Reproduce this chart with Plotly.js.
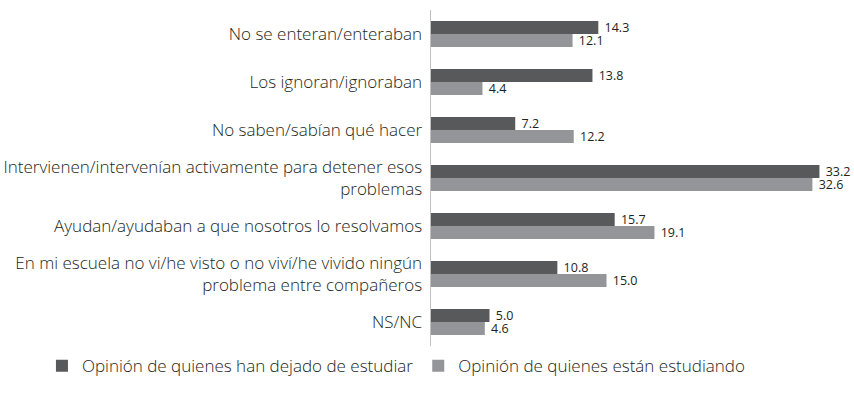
<!DOCTYPE html>
<html>
<head>
<meta charset="utf-8">
<script src="https://cdn.plot.ly/plotly-3.0.1.min.js"></script>
<style>html,body{margin:0;padding:0;background:#fff;}#chart{width:854px;height:404px;}</style>
</head>
<body>
<div id="chart"></div>
<script>
const categories = [
  "No se enteran/enteraban",
  "Los ignoran/ignoraban",
  "No saben/sabían qué hacer",
  "Intervienen/intervenían activamente para detener esos<br>problemas",
  "Ayudan/ayudaban a que nosotros lo resolvamos",
  "En mi escuela no vi/he visto o no viví/he vivido ningún<br>problema entre compañeros",
  "NS/NC"
];
const seriesNames = ["Opinión de quienes han dejado de estudiar", "Opinión de quienes están estudiando"];
const dejaron = [14.3, 13.8, 7.2, 33.2, 15.7, 10.8, 5.0];
const estudian = [12.1, 4.4, 12.2, 32.6, 19.1, 15.0, 4.6];

const fontFam = "'Open Sans', sans-serif";
const mk = (name, vals, color) => ({
  type: 'bar', orientation: 'h', name: name,
  x: vals, y: categories,
  marker: {color: color},
  text: vals.map(v => '\u00a0' + v.toFixed(1)),
  textposition: 'outside', cliponaxis: false, constraintext: 'none',
  textfont: {family: fontFam, size: 12.5, color: '#231f20', weight: 400},
  hoverinfo: 'x'
});
const data = [mk(seriesNames[0], dejaron, '#58595b'), mk(seriesNames[1], estudian, '#939598')];
const layout = {
  width: 854, height: 404,
  margin: {l: 431, r: 10, t: 10, b: 58},
  barmode: 'group', bargap: 0.46, bargroupgap: 0,
  paper_bgcolor: '#fff', plot_bgcolor: '#fff',
  font: {family: fontFam, size: 17, color: '#231f20', weight: 300},
  xaxis: {range: [0, 35.3], visible: false, fixedrange: true},
  yaxis: {autorange: 'reversed', showline: true, linecolor: '#c0c0c0', linewidth: 1.5,
          ticks: '', showgrid: false, zeroline: false, ticklabelstandoff: 4,
          tickfont: {family: fontFam, size: 17, color: '#231f20', weight: 300}},
  showlegend: true,
  legend: {orientation: 'h', x: -0.942, xanchor: 'left',
           y: -0.06, yanchor: 'middle', traceorder: 'normal',
           font: {family: fontFam, size: 17, color: '#231f20', weight: 300}, itemwidth: 30}
};
Plotly.newPlot('chart', data, layout, {displayModeBar: false, staticPlot: true});
</script>
</body>
</html>
